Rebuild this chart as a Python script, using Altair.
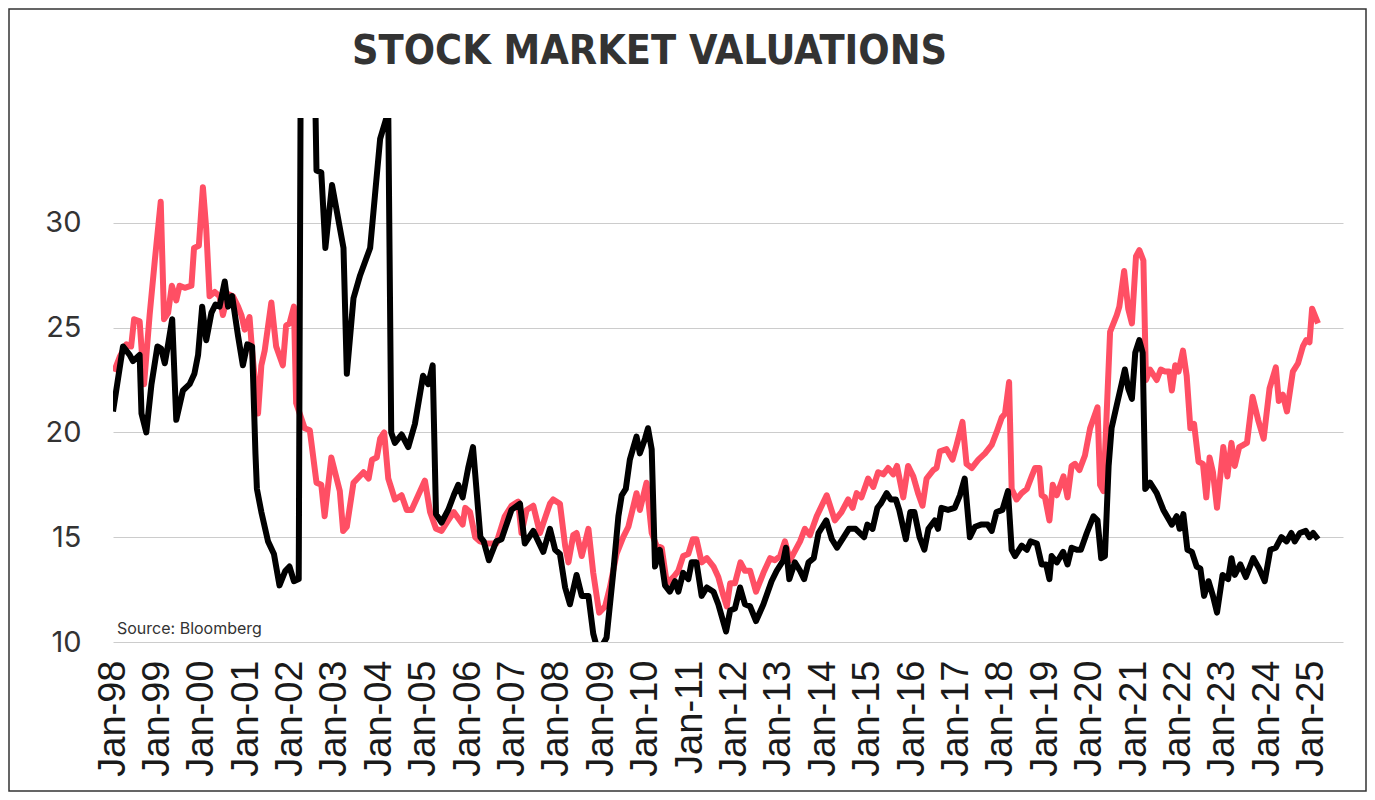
import altair as alt
import numpy as np
import pandas as pd

# Month offsets from Jan-1998 and values (red series)
red_months = [0.3, 1.8, 3.6, 4.9, 5.7, 7.2, 8.4, 9.9, 11.3, 12.9, 13.8, 14.9, 15.9, 17.1, 18.0, 19.4, 21.2, 21.9, 23.2,
              24.3, 25.2, 26.1, 27.5, 28.8, 29.7, 31.1, 32.4, 33.8, 34.7, 35.6, 36.9, 37.6, 39.2, 40.1, 41.0, 42.8, 44.1,
              45.9, 46.8, 47.7, 48.9, 49.5, 51.8, 53.2, 55.0, 56.3, 57.2, 59.0, 61.3, 62.2, 63.2, 65.0, 67.7, 69.1, 70.0,
              71.3, 72.2, 73.3, 74.4, 76.2, 78.0, 79.4, 80.7, 82.5, 84.3, 85.7, 87.3, 88.8, 90.6, 92.1, 93.3, 94.5, 95.2,
              96.5, 97.9, 99.2, 101.0, 103.6, 105.9, 107.7, 109.5, 110.4, 111.8, 113.6, 115.4, 118.1, 119.0, 120.8, 122.2,
              123.1, 124.4, 125.3, 126.7, 128.5, 129.8, 131.4, 133.0, 134.3, 136.1, 137.9, 139.3, 141.5, 142.4, 144.2,
              145.6, 146.9, 148.3, 149.7, 151.5, 152.8, 154.1, 155.5, 156.7, 157.7, 159.1, 160.5, 162.3, 163.6, 165.0,
              165.9, 166.8, 168.1, 169.6, 170.8, 172.2, 173.8, 175.8, 177.6, 178.9, 180.3, 181.6, 183.0, 183.9, 185.7,
              187.0, 188.4, 190.2, 192.9, 195.1, 196.9, 198.7, 199.9, 201.0, 202.3, 204.1, 205.5, 206.8, 208.2, 209.5,
              210.9, 211.9, 213.6, 214.9, 216.3, 217.6, 218.8, 219.9, 221.7, 222.6, 223.5, 225.3, 226.9, 228.0, 229.6,
              230.7, 232.1, 233.9, 235.7, 237.5, 238.8, 240.2, 241.1, 242.2, 242.9, 244.2, 245.6, 247.0, 248.3, 249.2,
              250.4, 251.0, 251.9, 253.1, 254.0, 255.1, 256.9, 258.0, 259.1, 260.0, 261.2, 262.7, 264.1, 266.1, 266.8,
              267.7, 268.6, 269.5, 271.3, 272.0, 273.3, 274.4, 275.4, 276.5, 277.4, 278.5, 279.2, 280.3, 282.1, 283.2,
              284.4, 285.5, 286.2, 287.1, 288.0, 289.2, 290.2, 291.2, 292.2, 293.4, 294.6, 295.5, 296.4, 297.3, 298.4,
              300.1, 301.2, 302.3, 303.2, 304.4, 305.5, 306.5, 308.0, 309.5, 311.0, 312.6, 314.3, 315.1, 316.2, 317.3,
              318.9, 320.3, 321.6, 322.5, 323.4, 324.1, 325.7]
red_values = [22.9, 23.6, 24.2, 24.1, 25.4, 25.3, 22.3, 25.6, 28.2, 31.0, 25.4, 25.7, 27.0, 26.3, 27.0, 26.9, 27.0, 28.8, 28.9,
              31.7, 29.7, 26.5, 26.7, 26.5, 25.6, 26.6, 26.5, 26.0, 25.6, 24.9, 25.5, 23.9, 20.9, 23.2, 23.9, 26.2, 24.1,
              23.2, 25.1, 25.2, 26.0, 21.4, 20.2, 20.1, 17.6, 17.5, 16.0, 18.8, 17.2, 15.3, 15.5, 17.6, 18.1, 17.8, 18.7,
              18.8, 19.7, 20.0, 17.8, 16.8, 17.0, 16.3, 16.3, 17.0, 17.7, 16.2, 15.4, 15.3, 15.8, 16.2, 15.9, 15.6, 16.4,
              16.2, 15.0, 14.8, 14.7, 14.7, 16.0, 16.5, 16.7, 15.2, 16.3, 16.5, 15.2, 16.6, 16.8, 16.6, 14.6,
              13.8, 15.1, 15.2, 14.1, 15.4, 13.3, 11.4, 11.7, 12.6, 14.2, 15.0, 15.5, 17.1, 16.3, 17.6,
              15.2, 14.6, 14.5, 12.8, 13.1, 13.4, 14.1, 14.2, 14.9, 14.9, 13.8, 14.0, 13.6, 13.1, 12.2,
              11.7, 12.8, 12.8, 13.8, 13.4, 13.4, 12.4, 13.3, 14.0, 13.9, 14.1, 14.8, 13.9, 14.2, 14.8,
              15.4, 15.1, 16.0, 17.0, 15.8, 16.2, 16.8, 16.4, 17.1, 16.9, 17.8, 17.4, 18.1, 18.0, 18.3,
              18.0, 18.4, 16.9, 18.4, 17.9, 17.1, 16.5, 17.8, 18.2, 18.3, 19.1, 19.2, 18.7, 19.4, 20.5,
              18.5, 18.3, 18.7, 19.0, 19.4, 20.0, 20.7, 20.9, 22.4, 17.3, 16.8, 17.1, 17.3, 17.9, 18.3,
              18.3, 17.0, 16.9, 15.8, 17.5, 17.0, 17.9, 16.9, 18.4, 18.5, 18.2, 18.9, 20.2, 21.2, 17.5,
              17.2, 21.0, 24.8, 25.6, 26.0, 27.7, 25.9, 25.2, 28.4, 28.7, 28.2, 22.5, 23.0, 22.5, 23.0,
              22.9, 22.9, 22.0, 23.2, 22.9, 23.9, 22.7, 20.2, 20.4, 18.6, 18.5, 16.9, 18.8, 18.1, 16.4,
              19.3, 17.9, 19.5, 18.4, 19.3, 19.4, 19.5, 21.7, 20.6, 19.7, 22.1, 23.1, 21.5, 21.8, 21.0,
              22.9, 23.3, 24.1, 24.4, 24.3, 25.9, 25.2]

# Month offsets from Jan-1998 and values (black series)
black_months = [0.0, 2.7, 4.5, 5.4, 7.2, 7.7, 9.0, 10.4, 12.0, 13.0, 14.0, 14.9, 16.0, 17.1, 18.9, 20.7, 22.0, 23.0, 24.1,
                25.2, 26.6, 27.7, 28.8, 30.2, 31.1, 32.2, 33.8, 35.1, 36.3, 37.6, 38.5, 38.9, 40.1, 41.9, 43.5, 45.0,
                46.6, 47.7, 48.9, 50.2, 50.9, 53.8, 55.0, 56.3, 57.4, 59.2, 62.3, 63.2, 65.0, 66.8, 69.5, 70.8, 72.2,
                74.4, 75.2, 76.2, 78.0, 79.8, 81.6, 83.8, 85.2, 86.4, 87.3, 88.8, 90.6, 92.1, 93.3, 94.5, 96.0, 97.3,
                99.3, 100.2, 101.6, 103.6, 105.0, 107.7, 110.0, 111.3, 113.6, 116.3, 118.1, 119.5, 120.8, 122.2, 123.5,
                125.3, 126.7, 128.5, 129.8, 130.7, 132.1, 133.4, 135.2, 136.6, 137.5, 138.6, 139.7, 141.5, 142.4, 143.8,
                144.6, 145.6, 146.5, 147.8, 149.2, 150.5, 151.9, 152.8, 154.1, 155.5, 156.4, 157.7, 159.1, 160.5, 162.3,
                163.6, 165.7, 166.8, 168.1, 169.5, 170.8, 172.2, 173.8, 175.8, 178.0, 179.4, 181.2, 181.9, 182.8, 184.3,
                185.7, 186.8, 188.0, 189.4, 190.7, 192.8, 194.3, 195.7, 197.5, 198.9, 200.7, 203.0, 203.9, 205.3, 206.6,
                207.5, 209.1, 210.2, 211.6, 212.5, 214.3, 215.5, 216.6, 218.0, 219.3, 220.4, 222.1, 223.0, 223.9, 225.7,
                227.5, 228.9, 230.2, 231.6, 233.0, 234.6, 236.4, 237.5, 238.8, 240.4, 241.9, 242.9, 243.8, 245.6, 247.0,
                248.0, 249.7, 251.0, 252.2, 253.1, 253.7, 255.1, 256.8, 258.0, 259.1, 260.5, 261.6, 263.2, 265.0, 266.1,
                267.1, 268.1, 269.1, 269.9, 271.3, 272.6, 273.5, 274.4, 275.4, 276.3, 277.4, 278.3, 279.0, 280.3, 282.1,
                283.9, 286.2, 287.5, 288.3, 289.3, 290.4, 291.6, 292.9, 293.9, 294.9, 296.1, 297.3, 298.4, 299.9, 301.4,
                302.3, 303.2, 304.7, 306.2, 308.2, 309.8, 311.3, 312.8, 314.3, 315.8, 317.2, 318.5, 319.4, 320.8, 322.4,
                323.4, 324.4, 325.7]
black_values = [21.0, 24.1, 23.7, 23.4, 23.7, 20.9, 20.0, 22.3, 24.1, 24.0, 23.3, 24.2, 25.4, 20.6, 22.0, 22.3, 22.8, 23.7, 26.0,
                24.4, 25.7, 26.1, 26.0, 27.2, 26.0, 26.5, 24.6, 23.2, 24.2, 24.1, 19.0, 17.3, 16.2, 14.8, 14.2, 12.7,
                13.4, 13.6, 12.9, 13.0, 45.0, 45.0, 32.5, 32.4, 28.8, 31.8, 28.8, 22.8, 26.4, 27.5, 28.8, 31.3, 34.0,
                35.3, 20.0, 19.5, 19.9, 19.3, 20.4, 22.7, 22.3, 23.2, 16.1, 15.7, 16.3, 17.0, 17.5, 16.9, 18.3, 19.3,
                15.0, 14.8, 13.9, 14.8, 14.9, 16.3, 16.6, 14.7, 15.3, 14.3, 15.4, 14.4, 14.2, 12.6, 11.8,
                13.2, 12.2, 12.2, 10.4, 9.8, 9.8, 10.2, 13.3, 16.0, 17.0, 17.3, 18.7, 19.8, 19.0, 19.7,
                20.2, 19.2, 13.6, 14.4, 12.7, 12.4, 12.9, 12.4, 13.3, 13.0, 13.8, 13.8, 12.2, 12.6, 12.4,
                11.8, 10.5, 11.5, 11.6, 12.6, 11.8, 11.7, 11.0, 11.8, 12.9, 13.4, 13.9, 14.5, 13.0, 13.8,
                13.4, 13.0, 13.8, 14.0, 15.2, 15.8, 14.9, 14.5, 15.0, 15.4, 15.4, 15.0, 15.6, 15.4, 16.4,
                16.6, 17.1, 16.8, 16.8, 16.3, 14.9, 16.2, 16.2, 15.0, 14.4, 15.4, 15.8, 15.4, 16.4, 16.3,
                16.4, 17.0, 17.8, 15.0, 15.5, 15.6, 15.6, 15.3, 16.2, 16.3, 17.2, 14.4, 14.1, 14.6, 14.4,
                14.8, 14.7, 13.7, 13.7, 13.0, 14.1, 13.8, 14.3, 13.7, 14.5, 14.4, 14.4, 15.2, 16.0, 15.8,
                14.0, 14.1, 18.4, 20.2, 21.3, 22.3, 23.0, 22.1, 21.6, 23.8, 24.4, 23.8, 17.3, 17.6, 17.1,
                16.3, 15.6, 16.0, 15.4, 16.1, 14.4, 14.3, 13.6, 13.5, 12.2, 12.9, 12.2, 11.4, 13.2, 13.0,
                14.0, 13.2, 13.7, 13.1, 14.0, 13.5, 12.9, 14.4, 14.5, 15.0, 14.8, 15.2, 14.8, 15.2, 15.3,
                15.0, 15.2, 14.9]

tick_years = list(range(1998, 2026))
y_ticks = [10, 15, 20, 25, 30]
title_text = "STOCK MARKET VALUATIONS"
source_text = "Source: Bloomberg"

start = pd.Timestamp("1998-01-01")


def to_dates(months):
    return start + pd.to_timedelta(np.array(months) * 30.4375, unit="D")


red_df = pd.DataFrame({"date": to_dates(red_months), "value": red_values})
black_df = pd.DataFrame({"date": to_dates(black_months), "value": black_values})
note_df = pd.DataFrame({"date": [pd.Timestamp("1998-02-03")], "value": [10.62], "label": [source_text]})
title_df = pd.DataFrame({"label": [title_text]})

x_scale = alt.Scale(domain=[alt.DateTime(year=1998, month=1, date=1), alt.DateTime(year=2025, month=9, date=15)])
y_scale = alt.Scale(domain=[10, 35], nice=False, zero=False)

x_axis = alt.Axis(
    values=[alt.DateTime(year=y, month=1, date=1) for y in tick_years],
    format="%b-%y", labelAngle=-90, labelFont="Liberation Sans", labelFontSize=38,
    labelColor="#1a1a1a", labelPadding=18, ticks=False, domain=False, grid=False,
    title=None, labelOverlap=False, labelFlush=False,
)
y_axis = alt.Axis(
    values=y_ticks, labelFont="Inter", labelFontSize=29, labelColor="#333333",
    labelPadding=32, ticks=False, domain=False, grid=True, gridColor="#cccccc",
    gridWidth=1, title=None,
)

red = alt.Chart(red_df).mark_line(color="#FF4F64", strokeWidth=6, clip=True, strokeJoin="round").encode(
    x=alt.X("date:T", scale=x_scale, axis=x_axis),
    y=alt.Y("value:Q", scale=y_scale, axis=y_axis),
)
black = alt.Chart(black_df).mark_line(color="#000000", strokeWidth=6, clip=True, strokeJoin="round").encode(
    x=alt.X("date:T", scale=x_scale),
    y=alt.Y("value:Q", scale=y_scale),
)
note = alt.Chart(note_df).mark_text(align="left", baseline="middle", font="Inter", fontSize=16,
                                    color="#333333").encode(
    x=alt.X("date:T", scale=x_scale),
    y=alt.Y("value:Q", scale=y_scale),
    text="label:N",
)
title = alt.Chart(title_df).mark_text(
    align="left", baseline="alphabetic", font="Liberation Sans Narrow, DejaVu Sans Condensed",
    fontSize=41, fontWeight="bold", color="#333333",
).encode(x=alt.value(239), y=alt.value(-54), text="label:N")

frame = alt.Chart(title_df).mark_rect(fillOpacity=0, stroke="#333333", strokeWidth=1.5).encode(
    x=alt.value(-104), x2=alt.value(1253), y=alt.value(-109), y2=alt.value(673)
)

chart = alt.layer(red, black, note, title, frame).properties(
    width=1230, height=524,
    autosize=alt.AutoSizeParams(type="none"),
    padding={"left": 105, "top": 110, "right": 24, "bottom": 150},
).configure(background="white").configure_view(stroke=None)

chart.save("out.html", embed_options={"renderer": "svg", "actions": False})
